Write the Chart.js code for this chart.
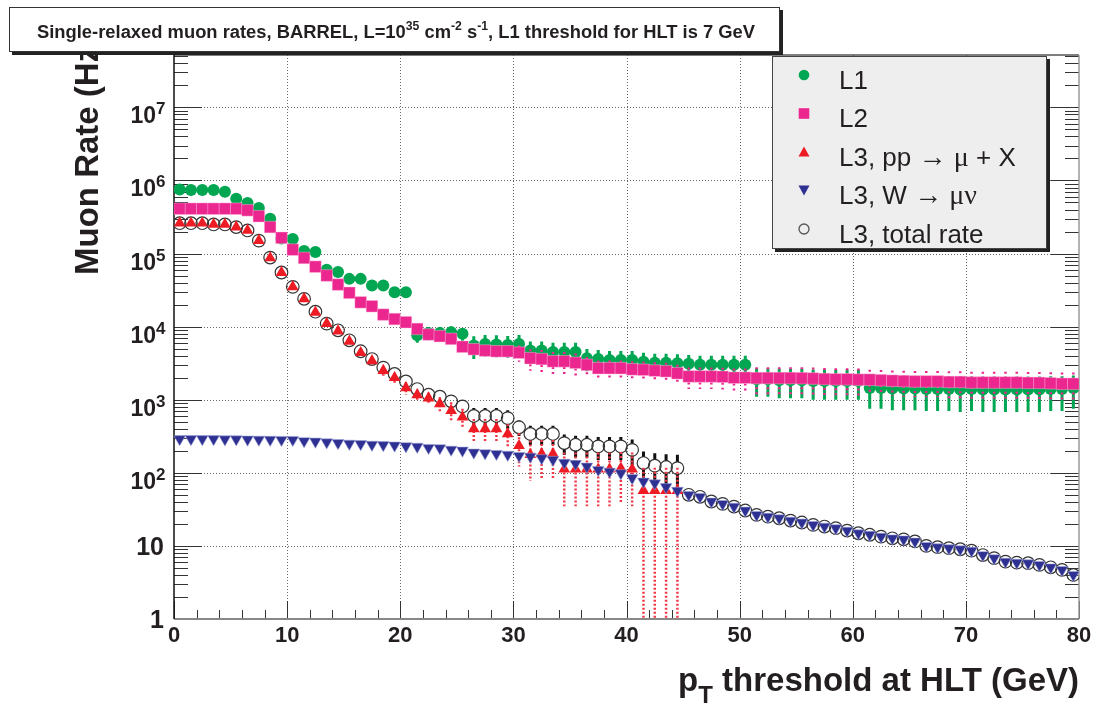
<!DOCTYPE html>
<html><head><meta charset="utf-8">
<style>html,body{margin:0;padding:0;background:#fff;}canvas{display:block;}</style>
<script src="https://cdn.jsdelivr.net/npm/chart.js@4.4.1/dist/chart.umd.min.js"></script>
</head><body>
<canvas id="c" width="1096" height="711"></canvas>
<script>
// ---------------- data ----------------
const ptThreshold = [0.5,1.5,2.5,3.5,4.5,5.5,6.5,7.5,8.5,9.5,
 10.5,11.5,12.5,13.5,14.5,15.5,16.5,17.5,18.5,19.5,
 20.5,21.5,22.5,23.5,24.5,25.5,26.5,27.5,28.5,29.5,
 30.5,31.5,32.5,33.5,34.5,35.5,36.5,37.5,38.5,39.5,
 40.5,41.5,42.5,43.5,44.5,45.5,46.5,47.5,48.5,49.5,
 50.5,51.5,52.5,53.5,54.5,55.5,56.5,57.5,58.5,59.5,
 60.5,61.5,62.5,63.5,64.5,65.5,66.5,67.5,68.5,69.5,
 70.5,71.5,72.5,73.5,74.5,75.5,76.5,77.5,78.5,79.5];

const rateL1 = [7.5e5,7.4e5,7.4e5,7.4e5,7.0e5,5.6e5,4.9e5,4.2e5,3.0e5,1.6e5,
 1.58e5,1.08e5,1.05e5,6.0e4,5.6e4,4.5e4,4.5e4,3.65e4,3.65e4,2.95e4,
 2.95e4,7.6e3,8.2e3,8.2e3,8.4e3,8.0e3,5.5e3,5.8e3,5.7e3,5.6e3,
 5.8e3,4.7e3,4.7e3,4.5e3,4.5e3,4.5e3,3.7e3,3.6e3,3.5e3,3.5e3,
 3.5e3,3.3e3,3.2e3,3.2e3,3.15e3,3.1e3,3.0e3,3.0e3,3.0e3,3.0e3,
 3.0e3,1.9e3,1.9e3,1.85e3,1.85e3,1.85e3,1.8e3,1.8e3,1.8e3,1.8e3,
 1.8e3,1.45e3,1.45e3,1.42e3,1.42e3,1.42e3,1.4e3,1.4e3,1.4e3,1.38e3,
 1.4e3,1.38e3,1.38e3,1.38e3,1.38e3,1.38e3,1.38e3,1.4e3,1.4e3,1.45e3];
const errL1 = [0,0,0,0,0,0,0,0,0,0, 0,0,0,0,0,0,0,0,0,0,
 0,1600,1700,1700,1700,1600,1900,1900,1900,1850,
 1900,1550,1550,1500,1500,1500,1250,1200,1150,1150,
 1150,1100,1050,1050,1050,1000,1000,1000,1000,1000,
 1000,800,800,800,800,800,800,800,800,800,
 800,700,700,700,700,700,700,700,700,700,
 700,700,700,700,700,700,700,700,700,700];

const rateL2 = [4.1e5,4.1e5,4.1e5,4.1e5,4.1e5,4.1e5,3.9e5,3.24e5,2.3e5,1.64e5,
 1.13e5,8.7e4,6.6e4,5.0e4,3.76e4,2.9e4,2.15e4,1.9e4,1.46e4,1.27e4,
 1.15e4,9.3e3,7.8e3,7.4e3,6.8e3,5.3e3,4.9e3,4.7e3,4.6e3,4.6e3,
 4.4e3,3.7e3,3.6e3,3.35e3,3.35e3,3.2e3,3.0e3,2.7e3,2.7e3,2.7e3,
 2.6e3,2.57e3,2.5e3,2.45e3,2.3e3,2.08e3,2.08e3,2.08e3,2.06e3,2.0e3,
 2.0e3,1.98e3,1.98e3,1.98e3,1.98e3,1.97e3,1.95e3,1.92e3,1.9e3,1.9e3,
 1.88e3,1.88e3,1.85e3,1.82e3,1.8e3,1.78e3,1.78e3,1.78e3,1.75e3,1.75e3,
 1.72e3,1.72e3,1.72e3,1.72e3,1.72e3,1.7e3,1.7e3,1.68e3,1.65e3,1.65e3];
const errL2 = [0,0,0,0,0,0,0,0,0,0, 0,0,0,0,0,0,2600,2300,1800,1500,
 1400,1100,950,900,820,650,600,570,550,550,
 1100,1200,1200,1150,1150,1100,800,750,750,750,
 750,750,750,750,700,680,680,680,680,680,
 680,800,800,800,800,800,800,800,800,800,
 800,700,700,700,700,700,700,700,700,700,
 700,700,700,700,700,700,700,700,700,700];

const ratePP = [2.6e5,2.6e5,2.6e5,2.5e5,2.5e5,2.3e5,2.07e5,1.5e5,8.7e4,5.5e4,
 3.5e4,2.4e4,1.57e4,1.1e4,8.7e3,6.3e3,4.4e3,3.4e3,2.5e3,2.0e3,
 1.45e3,1.17e3,1.05e3,880,710,580,400,400,400,340,
 235,177,182,182,112,112,112,112,112,115,
 112,57,57,57,57];
const errPP = [0,0,0,0,0,0,0,0,0,0, 0,0,0,0,0,0,500,450,380,330,
 280,200,200,200,210,170,145,145,145,120,
 113,100,100,100,77,77,77,77,77,77,
 77,60,60,60,60];

const rateW = [290,290,290,290,288,288,286,285,284,283,
 283,272,268,262,256,251,248,243,240,237,
 232,228,220,218,208,202,190,186,182,177,
 171,167,159,151,138,133,122,110,104,99,
 85,76,72,64,57,50,47,40.5,37.6,34.5,
 30.5,26.6,25.1,23.9,22.2,20.9,19.4,18.4,17.5,16.2,
 14.9,14.2,13.4,12.7,12.3,11.5,10.0,9.6,9.3,9.0,
 8.6,7.5,6.8,6.1,5.9,5.8,5.5,5.1,4.7,4.0];

const rateTotal = [2.6e5,2.6e5,2.6e5,2.5e5,2.5e5,2.3e5,2.07e5,1.5e5,8.8e4,5.5e4,
 3.5e4,2.4e4,1.6e4,1.1e4,8.9e3,6.5e3,4.6e3,3.6e3,2.75e3,2.25e3,
 1.78e3,1.4e3,1.17e3,1.1e3,950,810,600,600,600,560,
 420,340,340,340,255,242,242,230,230,230,
 206,136,125,120,116,50,47,40.5,37.6,34.5,
 30.5,26.6,25.1,23.9,22.2,20.9,19.4,18.4,17.5,16.2,
 14.9,14.2,13.4,12.7,12.3,11.5,10.0,9.6,9.3,9.0,
 8.6,7.5,6.8,6.1,5.9,5.8,5.5,5.1,4.7,4.0];
const errTotal = [0,0,0,0,0,0,0,0,0,0, 0,0,0,0,0,0,400,350,300,280,
 200,180,170,170,170,160,170,170,170,160,
 100,100,100,100,80,80,80,80,80,80,
 80,60,60,60,60];

const seriesNames = ['L1','L2','L3, pp \u2192 \u03bc + X','L3, W \u2192 \u03bc\u03bd','L3, total rate'];
const xTickLabels = [0,10,20,30,40,50,60,70,80];
const yTickExponents = [0,1,2,3,4,5,6,7];
const titleParts = ['Single-relaxed muon rates, BARREL, L=10','35',' cm','-2',' s','-1',', L1 threshold for HLT is 7 GeV'];

// ---------------- styling ----------------
const FONT = '"Liberation Sans", Arial, Helvetica, sans-serif';
const SERIF = '"Liberation Serif", "Times New Roman", serif';
const GREEN = '#00A651', PINK = '#EC268F', RED = '#ED1C24', BLUE = '#2E3192';
const TEXT = '#231f20';

function pts(vals, errs){
  const out = [];
  for (let i = 0; i < vals.length; i++) {
    if (vals[i] == null) continue;
    out.push({x: ptThreshold[i], y: vals[i], e: errs ? (errs[i] || 0) : 0});
  }
  return out;
}

const errStyles = [
  {color: GREEN, width: 3, dash: [], gap: 0},
  {color: PINK, width: 2.5, dash: [2,3], gap: 0},
  {color: '#F03848', width: 2.5, dash: [2,2], gap: 0},
  null,
  {color: '#111', width: 3, dash: [], gap: 6}
];

function drawErrors(chart, idx){
  const st = errStyles[idx]; if (!st) return;
  const {ctx, chartArea: a, scales: {x, y}} = chart;
  const ds = chart.data.datasets[idx];
  ctx.save();
  ctx.strokeStyle = st.color; ctx.lineWidth = st.width; ctx.setLineDash(st.dash);
  ctx.beginPath();
  for (const p of ds.data) {
    if (!p.e) continue;
    const px = x.getPixelForValue(p.x);
    const pc = y.getPixelForValue(p.y);
    const lo = p.y - p.e;
    const pyLo = lo <= y.min ? a.bottom : y.getPixelForValue(lo);
    const pyHi = y.getPixelForValue(p.y + p.e);
    if (st.gap) {
      if (pc - st.gap > pyHi) { ctx.moveTo(px, pyHi); ctx.lineTo(px, pc - st.gap); }
      if (pc + st.gap < pyLo) { ctx.moveTo(px, pc + st.gap); ctx.lineTo(px, pyLo); }
    } else { ctx.moveTo(px, pyHi); ctx.lineTo(px, pyLo); }
  }
  ctx.stroke();
  ctx.restore();
}

function drawFrame(chart){
  const {ctx, chartArea: a, scales: {x, y}} = chart;
  ctx.save();
  ctx.lineWidth = 1;
  ctx.strokeStyle = '#666';
  ctx.setLineDash([1,2]);
  ctx.beginPath();
  for (const v of xTickLabels) {
    if (v <= x.min || v >= x.max) continue;
    const px = Math.round(x.getPixelForValue(v)) + 0.5;
    ctx.moveTo(px, a.top); ctx.lineTo(px, a.bottom);
  }
  for (const k of yTickExponents) {
    if (k === 0) continue;
    const py = Math.round(y.getPixelForValue(Math.pow(10, k))) + 0.5;
    ctx.moveTo(a.left, py); ctx.lineTo(a.right, py);
  }
  ctx.stroke();
  ctx.setLineDash([]);
  ctx.beginPath();
  for (let k = 0; k <= 7; k++) for (let m = 1; m <= 9; m++) {
    const v = m * Math.pow(10, k); if (v > y.max) break;
    const py = Math.round(y.getPixelForValue(v)) + 0.5;
    const len = m === 1 ? 28 : 14;
    ctx.moveTo(a.left, py); ctx.lineTo(a.left + len, py);
    ctx.moveTo(a.right, py); ctx.lineTo(a.right - len, py);
  }
  for (let v = 0; v <= 80; v += 2) {
    const px = Math.round(x.getPixelForValue(v)) + 0.5;
    const len = v % 10 === 0 ? 18 : 9;
    ctx.moveTo(px, a.bottom); ctx.lineTo(px, a.bottom - len);
  }
  ctx.strokeStyle = '#333'; ctx.lineWidth = 1; ctx.stroke();
  // frame
  ctx.lineWidth = 1.5;
  ctx.strokeStyle = '#555';
  ctx.beginPath(); ctx.moveTo(a.left, a.top); ctx.lineTo(a.right, a.top); ctx.stroke();
  ctx.strokeStyle = '#999';
  ctx.beginPath(); ctx.moveTo(a.right, a.top); ctx.lineTo(a.right, a.bottom); ctx.stroke();
  ctx.lineWidth = 2; ctx.strokeStyle = '#888';
  ctx.beginPath(); ctx.moveTo(a.left, a.bottom); ctx.lineTo(a.right, a.bottom); ctx.stroke();
  ctx.lineWidth = 1.5; ctx.strokeStyle = '#111';
  ctx.beginPath(); ctx.moveTo(a.left, a.top); ctx.lineTo(a.left, a.bottom); ctx.stroke();
  ctx.restore();
}

function richWidth(ctx, segs){ let w = 0; for (const s of segs) { ctx.font = s.font; w += ctx.measureText(s.t).width; } return w; }
function drawRich(ctx, segs, x0, y0){
  let cx = x0;
  for (const s of segs) { ctx.font = s.font; ctx.fillText(s.t, cx, y0 + (s.dy || 0)); cx += ctx.measureText(s.t).width; }
}

function drawLabels(chart){
  const {ctx, chartArea: a, scales: {x, y}} = chart;
  ctx.save();
  ctx.fillStyle = TEXT; ctx.textBaseline = 'alphabetic';
  for (const k of yTickExponents) {
    const py = y.getPixelForValue(Math.pow(10, k));
    if (k === 0) { ctx.font = `bold 25px ${FONT}`; ctx.textAlign = 'right'; ctx.fillText('1', 164, py + 9); }
    else if (k === 1) { ctx.font = `bold 25px ${FONT}`; ctx.textAlign = 'right'; ctx.fillText('10', 164, py + 9); }
    else {
      ctx.font = `bold 23px ${FONT}`; ctx.textAlign = 'right'; ctx.fillText('10', 156, py + 16);
      ctx.font = `bold 17px ${FONT}`; ctx.textAlign = 'left'; ctx.fillText(String(k), 156, py + 7);
    }
  }
  ctx.font = `bold 22px ${FONT}`; ctx.textAlign = 'center';
  for (const v of xTickLabels) ctx.fillText(String(v), x.getPixelForValue(v), a.bottom + 23);
  // x title
  ctx.textAlign = 'left';
  const segs = [{t: 'p', font: `bold 33px ${FONT}`}, {t: 'T', font: `bold 24px ${FONT}`, dy: 12},
                {t: ' threshold at HLT (GeV)', font: `bold 33px ${FONT}`}];
  const w = richWidth(ctx, segs);
  drawRich(ctx, segs, a.right - w, 691);
  // y title
  ctx.save();
  ctx.translate(98, 275); ctx.rotate(-Math.PI / 2);
  ctx.font = `bold 33px ${FONT}`; ctx.textAlign = 'left';
  ctx.fillText('Muon Rate (Hz)', 0, 0);
  ctx.restore();
  ctx.restore();
}

function drawLegend(chart){
  const ctx = chart.ctx;
  const bx = 772, by = 56, bw = 275, bh = 193;
  ctx.save();
  ctx.fillStyle = '#222'; ctx.fillRect(bx + 3, by + 3, bw, bh);
  ctx.fillStyle = '#eeeeee'; ctx.fillRect(bx, by, bw, bh);
  ctx.strokeStyle = '#444'; ctx.lineWidth = 1; ctx.strokeRect(bx + 0.5, by + 0.5, bw - 1, bh - 1);
  const rows = [75, 113.5, 152, 190, 229];
  const mx = 804;
  chart.data.datasets.forEach((ds, i) => {
    const cy = rows[i];
    ctx.save();
    if (i === 0) { ctx.fillStyle = GREEN; ctx.beginPath(); ctx.arc(mx, cy, 5.3, 0, Math.PI * 2); ctx.fill(); }
    if (i === 1) { ctx.fillStyle = PINK; ctx.fillRect(mx - 5.3, cy - 5.3, 10.6, 10.6); }
    if (i === 2) { ctx.fillStyle = RED; ctx.beginPath(); ctx.moveTo(mx, cy - 5.5); ctx.lineTo(mx + 5.5, cy + 4.5); ctx.lineTo(mx - 5.5, cy + 4.5); ctx.closePath(); ctx.fill(); }
    if (i === 3) { ctx.fillStyle = BLUE; ctx.beginPath(); ctx.moveTo(mx, cy + 5.5); ctx.lineTo(mx + 5.5, cy - 4.5); ctx.lineTo(mx - 5.5, cy - 4.5); ctx.closePath(); ctx.fill(); }
    if (i === 4) { ctx.strokeStyle = '#555'; ctx.lineWidth = 1.3; ctx.beginPath(); ctx.arc(mx, cy, 5, 0, Math.PI * 2); ctx.stroke(); }
    ctx.restore();
    ctx.fillStyle = TEXT; ctx.textAlign = 'left'; ctx.textBaseline = 'alphabetic';
    const label = ds.label;
    const segs = [];
    for (const ch of label) {
      const special = (ch === '\u03bc' || ch === '\u03bd' || ch === '\u2192');
      const f = special ? `28px ${SERIF}` : `26px ${FONT}`;
      if (segs.length && segs[segs.length - 1].font === f) segs[segs.length - 1].t += ch;
      else segs.push({t: ch, font: f});
    }
    drawRich(ctx, segs, 839, cy + 13.5);
  });
  ctx.restore();
}

function drawTitleBox(chart){
  const ctx = chart.ctx;
  const bx = 9, by = 7, bw = 771, bh = 45;
  ctx.save();
  ctx.fillStyle = '#222'; ctx.fillRect(bx + 3, by + 3, bw, bh);
  ctx.fillStyle = '#fff'; ctx.fillRect(bx, by, bw, bh);
  ctx.strokeStyle = '#333'; ctx.lineWidth = 1; ctx.strokeRect(bx + 0.5, by + 0.5, bw - 1, bh - 1);
  const big = `bold 18px ${FONT}`, small = `bold 12px ${FONT}`;
  const segs = titleParts.map((t, i) => (i % 2 === 1) ? {t, font: small, dy: -8} : {t, font: big});
  ctx.fillStyle = TEXT; ctx.textAlign = 'left'; ctx.textBaseline = 'alphabetic';
  const w = richWidth(ctx, segs);
  const target = 718;
  ctx.translate(396 - target / 2, 38);
  ctx.scale(target / w, 1);
  drawRich(ctx, segs, 0, 0);
  ctx.restore();
}

const rootStyle = {
  id: 'rootStyle',
  beforeDatasetsDraw(chart){ drawFrame(chart); },
  beforeDatasetDraw(chart, args){ drawErrors(chart, args.index); },
  afterDraw(chart){ drawLabels(chart); drawLegend(chart); drawTitleBox(chart); }
};

new Chart(document.getElementById('c'), {
  type: 'scatter',
  data: {
    datasets: [
      {label: seriesNames[0], data: pts(rateL1, errL1), order: 5, pointStyle: 'circle', pointRadius: 6,
       pointBackgroundColor: GREEN, pointBorderColor: GREEN, pointBorderWidth: 0},
      {label: seriesNames[1], data: pts(rateL2, errL2), order: 4, pointStyle: 'rect', pointRadius: 8.2,
       pointBackgroundColor: PINK, pointBorderColor: 'rgba(255,190,225,0.7)', pointBorderWidth: 0.6},
      {label: seriesNames[2], data: pts(ratePP, errPP), order: 2, pointStyle: 'triangle', pointRadius: 6.8,
       pointBackgroundColor: RED, pointBorderColor: RED, pointBorderWidth: 0},
      {label: seriesNames[3], data: pts(rateW, null), order: 1, pointStyle: 'triangle', pointRotation: 180, pointRadius: 6.8,
       pointBackgroundColor: BLUE, pointBorderColor: 'rgba(160,165,220,0.9)', pointBorderWidth: 0.6},
      {label: seriesNames[4], data: pts(rateTotal, errTotal), order: 3, pointStyle: 'circle', pointRadius: 6.3,
       pointBackgroundColor: 'rgba(0,0,0,0)', pointBorderColor: '#333', pointBorderWidth: 1.2}
    ]
  },
  options: {
    responsive: false, animation: false, devicePixelRatio: 1, events: [],
    layout: {padding: {left: 174, right: 17, top: 55, bottom: 92}},
    plugins: {legend: {display: false}, title: {display: false}, tooltip: {enabled: false}},
    scales: {
      x: {type: 'linear', min: 0, max: 80, display: false},
      y: {type: 'logarithmic', min: 1, max: 5.2e7, display: false}
    }
  },
  plugins: [rootStyle]
});
</script>
</body></html>
